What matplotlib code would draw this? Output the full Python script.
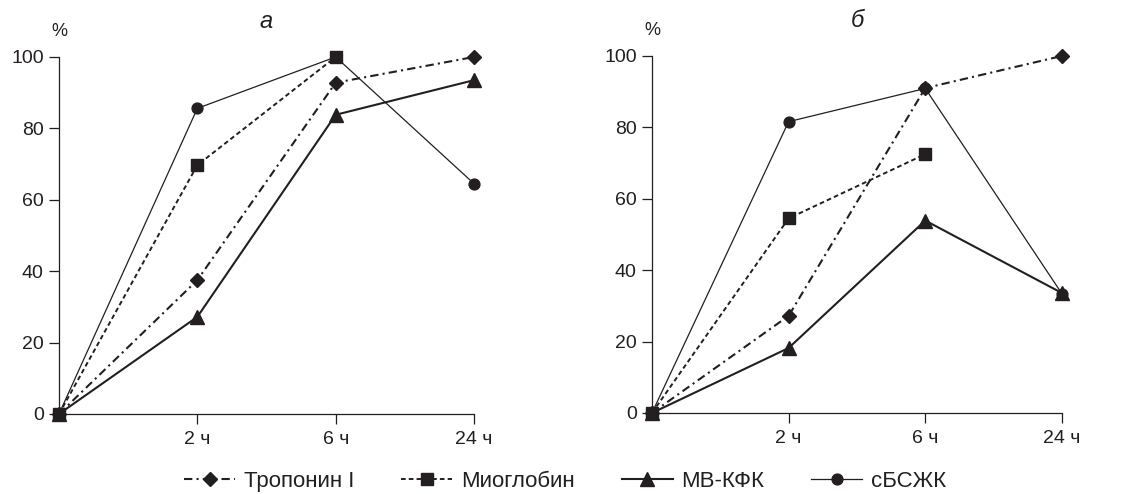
import matplotlib
matplotlib.use("Agg")
import matplotlib.pyplot as plt

plt.rcParams["font.family"] = ["Liberation Sans", "DejaVu Sans"]

# x categories (0 = start)
time_labels = ["", "2 ч", "6 ч", "24 ч"]
x_pos = [0, 1, 2, 3]

# panel a
a_troponin = [0, 37.5, 92.8, 100]
a_myoglobin = [0, 69.7, 100]
a_mbkfk = [0, 27.2, 83.8, 93.5]
a_sbszhk = [0, 85.6, 100, 64.5]

# panel b
b_troponin = [0, 27.2, 91.0, 100]
b_myoglobin = [0, 54.5, 72.5]
b_mbkfk = [0, 18.2, 53.9, 33.6]
b_sbszhk = [0, 81.6, 90.9, 33.4]

names = ["Тропонин I", "Миоглобин", "МВ-КФК", "сБСЖК"]
ink = "#231f20"

styles = {
    "Тропонин I": dict(marker="D", ms=7.6, lw=1.5, dashes=[4, 2, 1, 2], zorder=4),
    "Миоглобин": dict(marker="s", ms=8.8, lw=1.4, dashes=[2.4, 1.6], zorder=5),
    "МВ-КФК": dict(marker="^", ms=9.5, lw=1.5, ls="-", zorder=2),
    "сБСЖК": dict(marker="o", ms=7.8, lw=0.9, ls="-", zorder=3),
}

fig = plt.figure(figsize=(11.26, 4.94), dpi=100)
ax_a = fig.add_axes([0.0524, 0.162, 0.3686, 0.7227])
ax_b = fig.add_axes([0.579, 0.164, 0.3641, 0.7227])

panels = [
    (ax_a, "а", [a_troponin, a_myoglobin, a_mbkfk, a_sbszhk]),
    (ax_b, "б", [b_troponin, b_myoglobin, b_mbkfk, b_sbszhk]),
]

handles = {}
for ax, letter, series in panels:
    for name, vals in zip(names, series):
        ln, = ax.plot(x_pos[:len(vals)], vals, color=ink, mfc=ink, mec=ink,
                      clip_on=False, label=name, **styles[name])
        handles[name] = ln
    ax.set_xlim(0, 3)
    ax.set_ylim(0, 100)
    ax.set_yticks([0, 20, 40, 60, 80, 100])
    ax.set_xticks(x_pos[1:])
    ax.set_xticklabels(time_labels[1:])
    for s in ["top", "right"]:
        ax.spines[s].set_visible(False)
    for s in ["left", "bottom"]:
        ax.spines[s].set_linewidth(0.9)
        ax.spines[s].set_color(ink)
    ax.tick_params(axis="both", colors=ink, labelsize=14, width=0.9, length=7)
    ax.tick_params(axis="x", pad=5)
    ax.tick_params(axis="y", pad=4)
    ax.text(0.5, 1.1, letter, transform=ax.transAxes, ha="center", va="center",
            fontsize=17, style="italic", color=ink)
    ax.text(0.0, 1.07, "%", transform=ax.transAxes, ha="center", va="center",
            fontsize=13, color=ink)

fig.legend([handles[n] for n in names], names, loc="center", ncol=4,
           bbox_to_anchor=(0.502, 0.026), frameon=False, fontsize=16,
           handlelength=2.3, handletextpad=0.4, columnspacing=2.1,
           numpoints=1, labelcolor=ink)

fig.savefig("out.png", dpi=100)
